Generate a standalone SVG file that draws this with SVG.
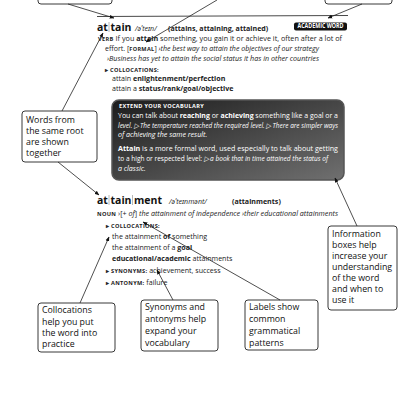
<svg xmlns="http://www.w3.org/2000/svg" width="400" height="400" viewBox="0 0 400 400">
<defs>
<marker id="ah" viewBox="0 0 10 10" refX="9" refY="5" markerWidth="6" markerHeight="6" orient="auto"><path d="M0,1 L10,5 L0,9 z" fill="#111"/></marker>
<linearGradient id="eg" x1="0" y1="0" x2="1" y2="1"><stop offset="0" stop-color="#1c1c1c"/><stop offset="0.55" stop-color="#4a4a4a"/><stop offset="1" stop-color="#707070"/></linearGradient>
</defs>
<style>
.d{font-family:"Open Sans","Noto Sans",sans-serif;font-size:7.1px;fill:#222}
.b{font-weight:bold}
.i{font-style:italic}
.sc{font-weight:bold;font-size:5.6px;letter-spacing:0.3px}
.hw{font-family:"Open Sans","Noto Sans",sans-serif;font-weight:bold;font-size:10.5px;fill:#111}
.dv{stroke:#999;stroke-width:0.7}
.co{font-family:"Open Sans","Noto Sans",sans-serif;font-size:8.8px;fill:#111}
.box{fill:#fff;stroke:#222;stroke-width:0.9}
.ln{stroke:#222;stroke-width:0.8;fill:none}
.w{fill:#fff}
</style>
<rect width="400" height="400" fill="#fff"/>

<g id="entry-attain">
<rect x="38" y="-4" width="74" height="8" rx="3" class="box"/>
<rect x="325" y="-4" width="67" height="8" rx="3" class="box"/>
<line x1="97" y1="16.5" x2="348" y2="15.5" stroke="#333" stroke-width="0.9"/>
<text x="97" y="31" class="hw">at</text>
<line x1="109" y1="22" x2="109" y2="32" class="dv"/>
<text x="110.5" y="31" class="hw">tain</text>
<text x="135" y="31" class="d i" font-size="7">/əˈteɪn/</text>
<text x="168" y="31" class="d b" font-size="5.3">(attains, attaining, attained)</text>
<rect x="294" y="22.5" width="53" height="8" rx="2" fill="#111"/>
<text x="320.5" y="28.3" class="d b w" font-size="4.4" text-anchor="middle" textLength="46" lengthAdjust="spacingAndGlyphs">ACADEMIC WORD</text>
<text x="98" y="41" class="d" textLength="244" lengthAdjust="spacingAndGlyphs"><tspan class="sc">VERB</tspan> If you <tspan class="b">attain</tspan> something, you gain it or achieve it, often after a lot of</text>
<text x="105" y="51" class="d" textLength="214" lengthAdjust="spacingAndGlyphs">effort. [<tspan class="sc">FORMAL</tspan>] <tspan class="i">›the best way to attain the objectives of our strategy</tspan></text>
<text x="107" y="61" class="d i" textLength="212" lengthAdjust="spacingAndGlyphs">›Business has yet to attain the social status it has in other countries</text>
<text x="105" y="72" class="d sc">▸ COLLOCATIONS:</text>
<text x="112" y="81" class="d">attain <tspan class="b">enlightenment/perfection</tspan></text>
<text x="112" y="91" class="d">attain a <tspan class="b">status/rank/goal/objective</tspan></text>
</g>

<g id="extend-box">
<rect x="112" y="100" width="232" height="80" rx="7" fill="url(#eg)" stroke="#555" stroke-width="1.5"/>
<text x="119" y="108" class="d sc w">EXTEND YOUR VOCABULARY</text>
<text x="118" y="118" class="d w" textLength="220" lengthAdjust="spacingAndGlyphs">You can talk about <tspan class="b">reaching</tspan> or <tspan class="b">achieving</tspan> something like a goal or a</text>
<text x="118" y="128" class="d w i" textLength="220" lengthAdjust="spacingAndGlyphs">level. ▷ The temperature reached the required level. ▷ There are simpler ways</text>
<text x="118" y="137" class="d w i">of achieving the same result.</text>
<text x="118" y="151" class="d w" textLength="220" lengthAdjust="spacingAndGlyphs"><tspan class="b">Attain</tspan> is a more formal word, used especially to talk about getting</text>
<text x="118" y="161" class="d w" textLength="210" lengthAdjust="spacingAndGlyphs">to a high or respected level: <tspan class="i">▷ a book that in time attained the status of</tspan></text>
<text x="118" y="171" class="d w i">a classic.</text>
</g>

<g id="entry-attainment">
<text x="97" y="204" class="hw">at</text>
<line x1="109" y1="195" x2="109" y2="205" class="dv"/>
<text x="110.5" y="204" class="hw">tain</text>
<line x1="132.5" y1="195" x2="132.5" y2="205" class="dv"/>
<text x="134" y="204" class="hw">ment</text>
<text x="169" y="204" class="d i" font-size="7">/əˈteɪnmənt/</text>
<text x="232" y="204" class="d b" font-size="5.3">(attainments)</text>
<text x="97" y="216" class="d" textLength="241" lengthAdjust="spacingAndGlyphs"><tspan class="sc">NOUN</tspan> ›[+ <tspan class="i">of</tspan>] <tspan class="i">the attainment of independence ›their educational attainments</tspan></text>
<text x="106" y="228" class="d sc">▸ COLLOCATIONS:</text>
<text x="112" y="239" class="d">the attainment <tspan class="b">of</tspan> something</text>
<text x="112" y="250" class="d">the attainment of a <tspan class="b">goal</tspan></text>
<text x="112" y="261" class="d"><tspan class="b">educational/academic</tspan> attainments</text>
<text x="106" y="273" class="d"><tspan class="sc">▸ SYNONYMS:</tspan> achievement, success</text>
<text x="106" y="285" class="d"><tspan class="sc">▸ ANTONYM:</tspan> failure</text>
</g>

<g id="note-root">
<rect x="22" y="111" width="75" height="51" rx="3" class="box"/>
<text class="co"><tspan x="26" y="123">Words from</tspan><tspan x="26" y="134">the same root</tspan><tspan x="26" y="145">are shown</tspan><tspan x="26" y="156">together</tspan></text>
</g>
<g id="note-info">
<rect x="328" y="226" width="69" height="84" rx="3" class="box"/>
<text class="co"><tspan x="332" y="237">Information</tspan><tspan x="332" y="248">boxes help</tspan><tspan x="332" y="259">increase your</tspan><tspan x="332" y="270">understanding</tspan><tspan x="332" y="281">of the word</tspan><tspan x="332" y="292">and when to</tspan><tspan x="332" y="303">use it</tspan></text>
</g>
<g id="note-colloc">
<rect x="38" y="303" width="77" height="49" rx="3" class="box"/>
<text class="co"><tspan x="42" y="313">Collocations</tspan><tspan x="42" y="325">help you put</tspan><tspan x="42" y="336">the word into</tspan><tspan x="42" y="347">practice</tspan></text>
</g>
<g id="note-syn">
<rect x="141" y="300" width="77" height="51" rx="3" class="box"/>
<text class="co"><tspan x="145" y="310">Synonyms and</tspan><tspan x="145" y="322">antonyms help</tspan><tspan x="145" y="334">expand your</tspan><tspan x="145" y="346">vocabulary</tspan></text>
</g>
<g id="note-labels">
<rect x="245" y="300" width="73" height="50" rx="3" class="box"/>
<text class="co"><tspan x="249" y="310">Labels show</tspan><tspan x="249" y="322">common</tspan><tspan x="249" y="334">grammatical</tspan><tspan x="249" y="346">patterns</tspan></text>
</g>

<g id="connectors" class="ln" marker-end="url(#ah)">
<line x1="68" y1="4" x2="114" y2="18"/>
<line x1="217" y1="0" x2="146" y2="42"/>
<line x1="362" y1="4" x2="328" y2="18"/>
<line x1="62" y1="111" x2="103" y2="33"/>
<line x1="58" y1="162" x2="99" y2="195"/>
<line x1="357" y1="226" x2="335" y2="178"/>
<line x1="80" y1="303" x2="109" y2="237"/>
<line x1="173" y1="300" x2="157" y2="270"/>
<line x1="280" y1="300" x2="143" y2="222"/>
</g>
</svg>
